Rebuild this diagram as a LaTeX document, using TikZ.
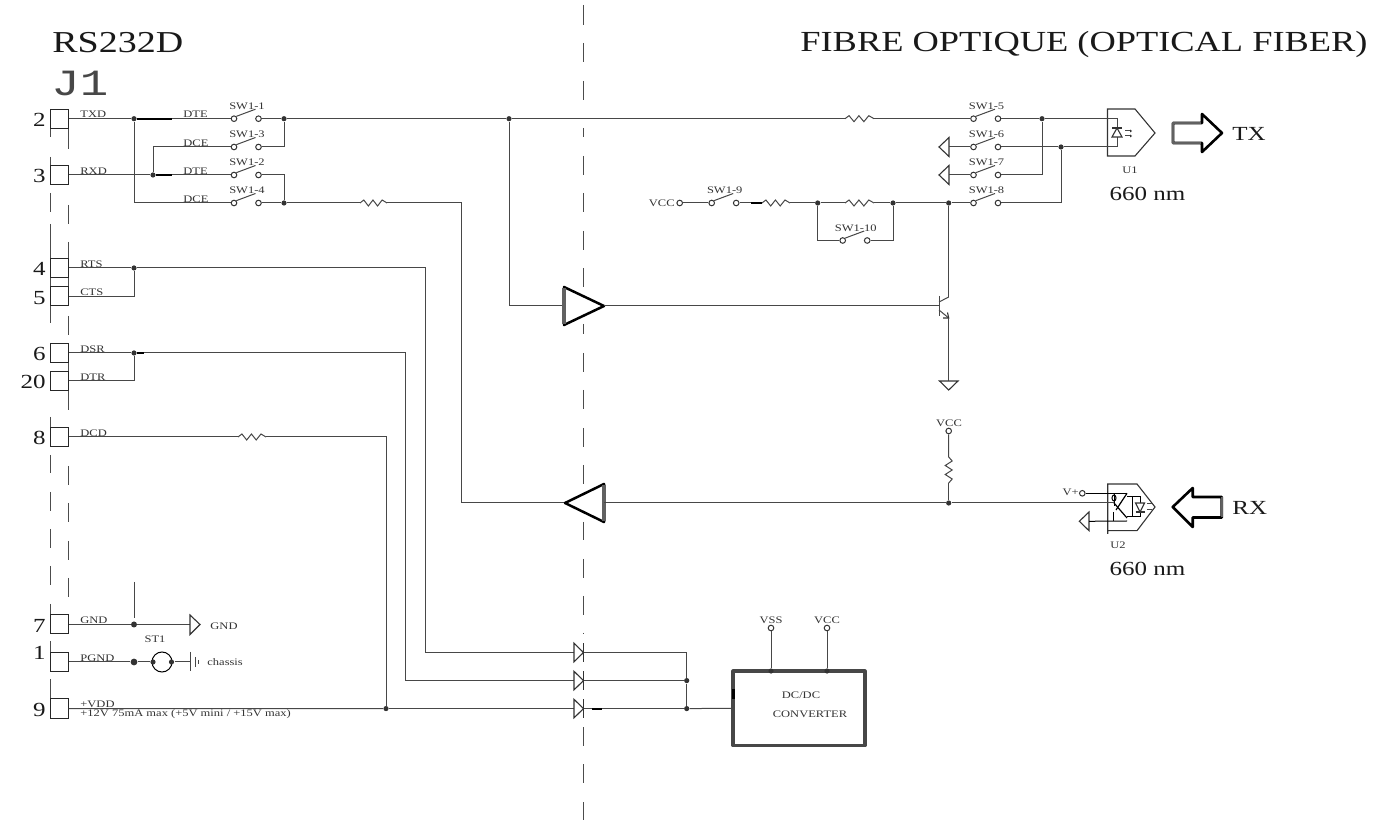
\documentclass[tikz,border=0pt]{standalone}
\usepackage{fontspec}
\setmainfont{Liberation Serif}
\newfontfamily\stf[FakeStretch=1.25]{Liberation Serif}
\newfontfamily\mtf[FakeStretch=1.28]{Liberation Mono}
\tikzset{
  wire/.style={draw=black!72,line width=.5pt,line join=miter},
  heavy/.style={draw=black,line width=1pt},
  term/.style={circle,draw=black!80,fill=white,line width=.5pt,minimum size=2.8pt,inner sep=0pt},
  jct/.style={circle,fill=black!80,minimum size=2.6pt,inner sep=0pt},
  tiny/.style={font=\stf\fontsize{5}{5}\selectfont,text=black!80,inner sep=0pt,anchor=base,yshift=-.7pt},
  tinyl/.style={tiny,anchor=base west},
  mid/.style={font=\stf\fontsize{10}{10}\selectfont,text=black!90,inner sep=0pt,anchor=base,yshift=-.5pt},
  pin/.style={mid,anchor=base east},
  head/.style={font=\stf\fontsize{15.2}{15.2}\selectfont,text=black!90,inner sep=0pt,anchor=base west},
  pinbox/.style={rectangle,draw=black!85,line width=.5pt,fill=white,minimum width=9pt,minimum height=9.5pt,inner sep=0pt},
  sym/.style={draw=black!80,line width=.55pt,line join=miter,fill=white},
  amp/.style={draw=black,line width=1.25pt,line join=round,fill=white},
  bigarrow/.style={draw=black,line width=1.3pt,line join=round,fill=white},
  graybar/.style={draw=black!62,line width=1.7pt},
  cl/.style={draw=black!70,line width=.5pt},
}
% switch: name, xleft, y, label
\newcommand{\swt}[4]{%
  \node[term] (#1l) at (#2,#3) {};
  \node[term] (#1r) at (#2+24.5,#3) {};
  \draw[wire] (#1l.north east) -- (#2+21.5,#3-9.5);
  \node[tiny] (#1t) at (#2+13,#3-10.7) {#4};
}
% horizontal resistor: name, xleft, xright, y
\newcommand{\resh}[4]{%
  \coordinate (#1a) at (#2,#4);
  \coordinate (#1b) at (#3,#4);
  \draw[wire] (#1a) -- ++({(#3-#2)*.14},-3) -- ++({(#3-#2)*.17},6) -- ++({(#3-#2)*.17},-6) -- ++({(#3-#2)*.17},6) -- ++({(#3-#2)*.17},-6) -- (#1b);
}
\newcommand{\pinrow}[3]{% name, y, number
  \node[pinbox] (#1) at (59,#2) {};
  \node[pin] (#1n) at (46,#2+7) {#3};
}
\begin{document}
\begin{tikzpicture}[x=0.5pt,y=-0.5pt]
\useasboundingbox (0,0) rectangle (1386,822);

% centre and connector dash lines
\foreach \a/\b in {5/25,43/62,81/100,128/137,156/175,193/212,231/250,268/287,324/334,353/372,390/409,428/447,465/484,522/540,559/578,596/615,633/634,727/746,764/783,802/820}
  \draw[cl] (583.5,\a) -- (583.5,\b);
\foreach \a/\b in {109/137,157/184,193/212,224/243,240/323,343/362,371/390,417/447,455/473,492/511,529/548,566/585,604/634,641/671,679/718}
  \draw[cl] (50,\a) -- (50,\b);
\foreach \a/\b in {128/149,205/224,242/306,316/335,343/410,466/485,503/522,541/560,578/597}
  \draw[cl] (68,\a) -- (68,\b);

% titles
\node[head] (ttl) at (52,53) {RS232D};
\node[head,font=\stf\fontsize{14.56}{14.56}\selectfont,anchor=base east] (ttr) at (1368,52) {FIBRE OPTIQUE (OPTICAL FIBER)};
\node[font=\mtf\fontsize{18.5}{18.5}\selectfont,inner sep=0pt,anchor=base west,text=black!72] (jone) at (51,96) {J1};

% connector pins
\pinrow{p2}{118.7}{2}
\pinrow{p3}{175}{3}
\pinrow{p4}{268}{4}
\pinrow{p5}{296.5}{5}
\pinrow{p6}{353}{6}
\pinrow{p20}{381}{20}
\pinrow{p8}{437}{8}
\pinrow{p7}{624.5}{7}
\node[pinbox] (p1) at (59,662) {};
\node[pin] (p1n) at (46,659) {1};
\pinrow{p9}{708.5}{9}

% signal names
\node[tinyl] (ltxd) at (80,116.5) {TXD};
\node[tinyl] (lrxd) at (80,173) {RXD};
\node[tinyl] (lrts) at (80,266) {RTS};
\node[tinyl] (lcts) at (80,294.5) {CTS};
\node[tinyl] (ldsr) at (80,351) {DSR};
\node[tinyl] (ldtr) at (80,379) {DTR};
\node[tinyl] (ldcd) at (80,435) {DCD};
\node[tinyl] (lgnd) at (80,622.5) {GND};
\node[tinyl] (lpgnd) at (80,660) {PGND};
\node[tinyl] (lvdd) at (80,706.5) {+VDD};
\node[tinyl] (lv12) at (80,715.5) {+12V 75mA max (+5V mini / +15V max)};
\node[tinyl] (dte1) at (183,116.5) {DTE};
\node[tinyl] (dce1) at (183,145) {DCE};
\node[tinyl] (dte2) at (183,173) {DTE};
\node[tinyl] (dce2) at (183,201) {DCE};

% switches
\swt{sa}{234}{118.7}{SW1-1}
\swt{sc}{234}{147}{SW1-3}
\swt{sb}{234}{175}{SW1-2}
\swt{sd}{234}{203}{SW1-4}
\swt{se}{973.5}{118.7}{SW1-5}
\swt{sf}{973.5}{147}{SW1-6}
\swt{sg}{973.5}{175}{SW1-7}
\swt{sh}{973.5}{203}{SW1-8}
\swt{si}{711.7}{203}{SW1-9}
\swt{sj}{842.7}{240.5}{SW1-10}

% junctions
\node[jct] (jtx) at (134,118.7) {};
\node[jct] (jrx) at (153,175) {};
\node[jct] (jo1) at (284,118.7) {};
\node[jct] (jo2) at (284,203) {};
\node[jct] (jb) at (509,118.7) {};
\node[jct] (jt5) at (1042,118.7) {};
\node[jct] (jt6) at (1061,147) {};
\node[jct] (jr1) at (817.7,203) {};
\node[jct] (jr2) at (893,203) {};
\node[jct] (jc) at (948.7,203) {};
\node[jct] (jrts) at (134,268) {};
\node[jct] (jdsr) at (134,353) {};
\node[jct] (jrx2) at (948.7,503) {};
\node[jct] (jvd) at (386,708.6) {};
\node[jct] (jd2) at (686.7,680.6) {};
\node[jct] (jd3) at (686.7,708.6) {};

% TXD / RXD matrix
\draw[wire] (p2.east) -- (jtx);
\draw[heavy] (jtx) -- (172,118.7);
\draw[wire] (172,118.7) -- (sal);
\draw[wire] (jtx) |- (sdl);
\draw[wire] (p3.east) -- (jrx);
\draw[heavy] (jrx) -- (172,175);
\draw[wire] (172,175) -- (sbl);
\draw[wire] (jrx) |- (scl);
\draw[wire] (sar) -- (jo1);
\draw[wire] (scr) -| (jo1);
\draw[wire] (sbr) -| (jo2);
\draw[wire] (sdr) -- (jo2);
\draw[wire] (jo1) -- (jb);

% resistors on the horizontal runs
\resh{ra}{845}{874}{118.7}
\resh{rb}{360}{387}{203}
\resh{rc}{762}{790}{203}
\resh{rd}{845}{874}{203}
\resh{re}{238}{266}{437}

\draw[wire] (jb) -- (raa);
\draw[wire] (rab) -- (sel);
\draw[wire] (jo2) -- (rba);

% receive amplifier
\coordinate (arin) at (565,503);
\coordinate (arout) at (604,503);
\draw[wire] (rbb) -| (461,503) -- (arin);
\draw[amp] (arin) -- (604,484) -- (604,522) -- cycle;
\draw[graybar] (604,485) -- (604,521);
\draw[wire] (arout) -- (jrx2);

% transmit amplifier
\coordinate (atin) at (564,306);
\coordinate (atout) at (604,306);
\draw[wire] (jb) |- (atin);
\draw[amp] (564,287) -- (atout) -- (564,325) -- cycle;
\draw[graybar] (564,288) -- (564,324);
\coordinate (qb) at (939,306);
\coordinate (qc) at (948.7,297);
\coordinate (qe) at (948.7,318);
\draw[wire] (atout) -- (qb);
\draw[wire] (939,296) -- (939,316);
\draw[wire] (939,302) -- (qc);
\draw[wire] (939,310) -- (qe);
\draw[sym,fill=none] (943,318) -- (948.7,318) -- (947.5,312.5);
\draw[wire] (jc) -- (qc);
\coordinate (gq) at (948.7,381);
\draw[wire] (qe) -- (gq);
\draw[sym] (939.5,381) -- (958,381) -- (948.7,390) -- cycle;

% VCC row
\node[tiny,anchor=base east] (vcca) at (675,205) {VCC};
\node[term] (tvcc) at (679.7,203) {};
\draw[wire] (tvcc) -- (sil);
\draw[wire] (sir) -- (751,203);
\draw[heavy] (751,203) -- (rca);
\draw[wire] (rcb) -- (jr1);
\draw[wire] (jr1) -- (rda);
\draw[wire] (rdb) -- (jr2);
\draw[wire] (jr2) -- (jc);
\draw[wire] (jc) -- (shl);
\draw[wire] (jr1) |- (sjl);
\draw[wire] (sjr) -| (jr2);
\draw[wire] (shr) -| (jt6);

% outputs of switches 5-8
\draw[wire] (ser) -- (jt5);
\draw[wire] (sgr) -| (jt5);
\draw[wire] (sfr) -- (jt6);
\coordinate (gf) at (949,147);
\coordinate (gg) at (949,175);
\draw[wire] (gf) -- (sfl);
\draw[wire] (gg) -- (sgl);
\draw[sym] (949,137.5) -- (939,147) -- (949,156.5) -- cycle;
\draw[sym] (949,165.5) -- (939,175) -- (949,184.5) -- cycle;

% U1 emitter
\draw[sym,fill=none] (1107.5,109) -- (1135,109) -- (1155,133) -- (1135,156) -- (1107.5,156) -- cycle;
\coordinate (dia) at (1117,118.7);
\coordinate (dib) at (1117,147);
\draw[wire] (jt5) -- (dia) -- (dib) -- (jt6);
\draw[sym,fill=white] (1117,128) -- (1122,137) -- (1112,137) -- cycle;
\draw[sym] (1112,128) -- (1122,128);
\draw[wire] (1125,131) -- (1130,131);
\draw[wire] (1125,136) -- (1130,136);
\fill[black!80] (1130,129.5) -- (1132,131) -- (1130,132.5) -- cycle;
\fill[black!80] (1130,134.5) -- (1132,136) -- (1130,137.5) -- cycle;
\node[tiny] (uone) at (1130,172) {U1};
\node[mid] (nma) at (1147.5,199.5) {660 nm};
\draw[bigarrow] (1173,123) -- (1202,123) -- (1202,114) -- (1222,133) -- (1202,152) -- (1202,143) -- (1173,143) -- cycle;
\draw[graybar,line width=1.2pt] (1173,122) -- (1173,144);
\draw[graybar,line width=1pt] (1173,123) -- (1201,123);
\draw[graybar,line width=1pt] (1173,143) -- (1201,143);
\node[mid,anchor=base west] (tx) at (1232,140) {TX};

% U2 receiver
\draw[sym,fill=none] (1107.7,534) -- (1107.7,484) -- (1137,484) -- (1155,507) -- (1137,530.7) -- (1107.7,530.7);
\node[tiny,anchor=base east] (vp) at (1079,494) {V+};
\node[term] (tvp) at (1082.3,493.3) {};
\coordinate (ucol) at (1127,493.3);
\coordinate (uem) at (1127,521);
\coordinate (uin) at (1114,503);
\draw[draw=black,line width=.5pt] (tvp) -- (ucol);
\draw[wire] (jrx2) -- (uin);
\draw[sym] (1089,512) -- (1079.3,521.3) -- (1089,530.7) -- cycle;
\coordinate (ugnd) at (1089,521.3);
\draw[draw=black,line width=.5pt] (ugnd) -- (uem);
\draw[draw=black,line width=.5pt] (1114,493.3) -- (1114,506);
\draw[draw=black,line width=.5pt] (1114,498) ellipse (2 and 3);
\draw[draw=black,line width=.6pt] (ucol) -- (1116,510);
\draw[draw=black,line width=.6pt] (uin) -- (1127,518);
\draw[draw=black,line width=.5pt] (1113,512) -- (1113,521);
\draw[draw=black,line width=.5pt] (1127,497) -- (1140,497) -- (1140,517) -- (1127,517);
\draw[draw=black,line width=.5pt] (1132,497) -- (1132,517);
\draw[sym] (1135.5,503) -- (1144.5,503) -- (1140,512) -- cycle;
\draw[sym] (1135.5,512) -- (1144.5,512);
\draw[wire] (1147,504) -- (1152,504);
\draw[wire] (1147,510) -- (1152,510);
\node[tiny] (utwo) at (1118,547) {U2};
\node[mid] (nmb) at (1147.5,575) {660 nm};
\draw[bigarrow] (1172.7,507) -- (1192.7,488) -- (1192.7,497) -- (1221.7,497) -- (1221.7,517.5) -- (1192.7,517.5) -- (1192.7,527) -- cycle;
\draw[graybar,line width=1.2pt] (1221.7,497) -- (1221.7,517.5);
\node[mid,anchor=base west] (rx) at (1232,513.5) {RX};

% VCC pull-up
\node[tiny] (vccb) at (949,425) {VCC};
\node[term] (tvb) at (948.7,431) {};
\coordinate (rfa) at (948.7,457);
\coordinate (rfb) at (948.7,483);
\draw[wire] (tvb) -- (rfa) -- ++(3.5,4) -- ++(-7,4.5) -- ++(7,4.5) -- ++(-7,4.5) -- ++(7,4.5) -- (rfb);
\draw[wire] (rfb) -- (jrx2);

% handshake lines
\draw[wire] (p4.east) -- (jrts);
\draw[wire] (p5.east) -| (jrts);
\draw[wire] (p6.east) -- (jdsr);
\draw[wire] (p20.east) -| (jdsr);
\draw[heavy] (jdsr) -- (144,353);
\draw[wire] (p8.east) -- (rea);

% diodes
\coordinate (da) at (574,652.5);
\coordinate (db) at (574,680.6);
\coordinate (dc) at (574,708.6);
\coordinate (dao) at (583.5,652.5);
\coordinate (dbo) at (583.5,680.6);
\coordinate (dco) at (583.5,708.6);
\draw[wire] (jrts) -| (425,652.5) -- (da);
\draw[wire] (144,353) -| (405,680.6) -- (db);
\draw[wire] (reb) -| (jvd);
\draw[wire] (p9.east) -- (jvd);
\draw[wire] (jvd) -- (dc);
\foreach \n in {652.5,680.6,708.6}{
  \draw[sym] (574,\n-9.3) -- (583.5,\n) -- (574,\n+9.3) -- cycle;
  \draw[sym] (583.5,\n-9.3) -- (583.5,\n+9.3);
}
\draw[wire] (dao) -| (jd2);
\draw[wire] (dbo) -- (jd2);
\draw[wire] (dco) -- (592,708.6);
\draw[heavy] (592,708.6) -- (602,708.6);
\draw[wire] (602,708.6) -- (jd3);
\draw[wire] (jd2) -- (jd3);

% converter
\node[rectangle,draw=black!72,line width=1.6pt,minimum width=66pt,minimum height=37.2pt,inner sep=0pt,line join=round] (conv) at (799,708.3) {};
\draw[wire] (jd3) -- (conv.west);
\draw[draw=black,line width=1.6pt] (733.3,689.5) -- (733.3,699);
\node[jct] (jvs) at (771,671) {};
\node[jct] (jvc) at (827,671) {};
\node[term] (tvs) at (771,628) {};
\node[term] (tvc) at (827,628) {};
\draw[wire] (tvs) -- (jvs);
\draw[wire] (tvc) -- (jvc);
\node[tiny] (lvss) at (771,622) {VSS};
\node[tiny] (lvcc) at (827,622) {VCC};
\node[tiny] (cva) at (801,697) {DC/DC};
\node[tiny] (cvb) at (810,716) {CONVERTER};

% GND
\node[jct,minimum size=3pt] (jg) at (134,624.5) {};
\coordinate (gt) at (134,582);
\draw[wire] (gt) -- (134,618);
\coordinate (gtri) at (190,624.5);
\draw[wire] (p7.east) -- (jg) -- (gtri);
\draw[sym] (190,615) -- (200,624.5) -- (190,634.5) -- cycle;
\node[tiny] (lg2) at (224,628) {GND};
\node[tiny] (lst) at (155,641) {ST1};

% PGND
\node[jct,minimum size=3.4pt] (jp) at (134,662) {};
\node[circle,draw=black,fill=white,line width=.5pt,minimum size=10pt,inner sep=0pt] (st) at (162,662) {};
\node[jct] (jpa) at (153,662) {};
\node[jct] (jpb) at (171.5,662) {};
\coordinate (chs) at (190,662);
\draw[wire] (p1.east) -- (jp) -- (jpa);
\draw[wire] (jpb) -- (chs);
\draw[wire] (190,652) -- (190,671);
\draw[wire] (195,657) -- (195,667);
\draw[wire] (198,660) -- (198,664);
\node[tinyl] (lch) at (207,664) {chassis};
\end{tikzpicture}
\end{document}
